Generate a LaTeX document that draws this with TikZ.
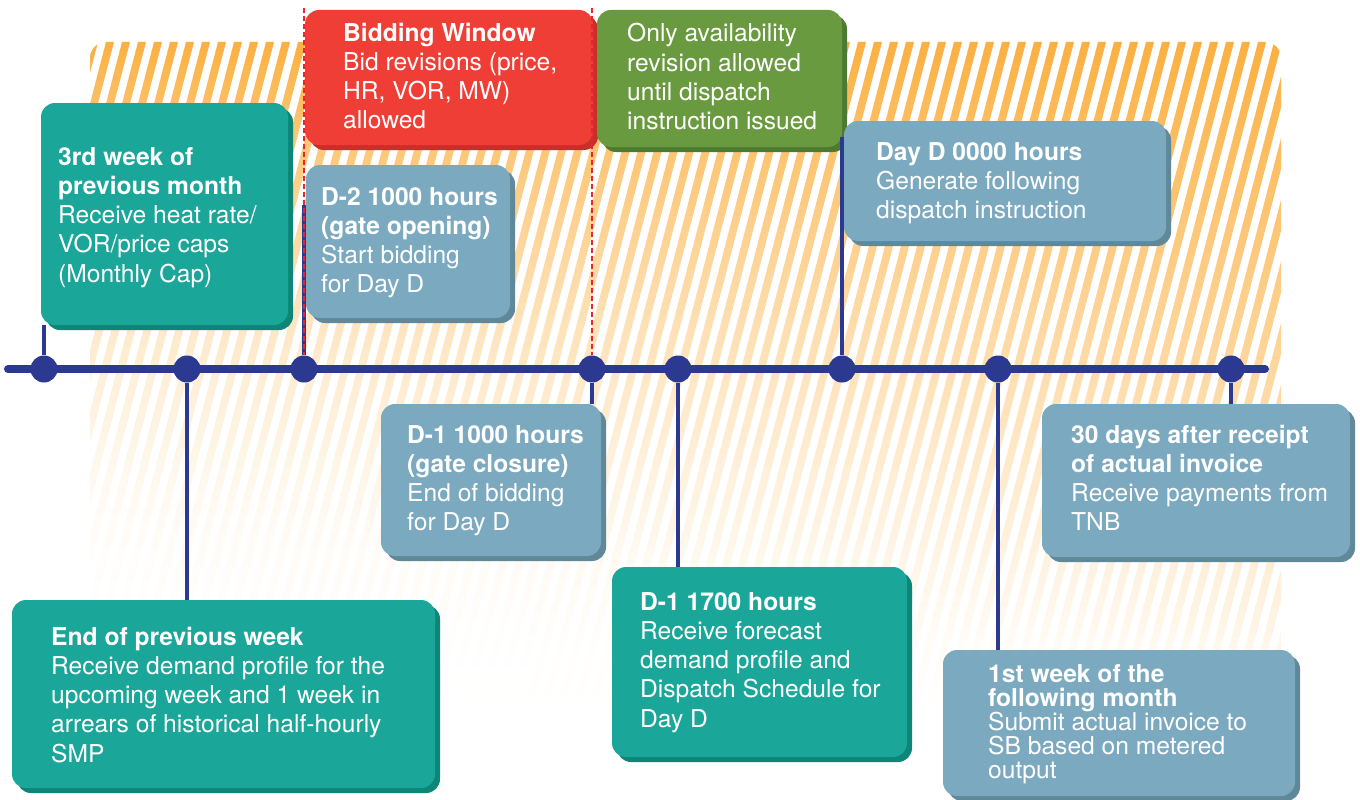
\documentclass[tikz,border=0pt]{standalone}
\usepackage{fontspec}
\setmainfont{TeX Gyre Heros}
\usetikzlibrary{shadows}

\definecolor{navyline}{HTML}{2B3990}
\definecolor{cardteal}{HTML}{1BA69A}
\definecolor{cardtealdark}{HTML}{0D8677}
\definecolor{cardred}{HTML}{EF3E36}
\definecolor{cardreddark}{HTML}{C5302B}
\definecolor{cardgreen}{HTML}{6A9A3F}
\definecolor{cardgreendark}{HTML}{4E7A30}
\definecolor{cardblue}{HTML}{7BA9BF}
\definecolor{cardbluedark}{HTML}{5F8899}
\definecolor{stripeorange}{HTML}{FBB040}
\definecolor{gatered}{HTML}{E8262B}

\tikzset{
  card/.style={rectangle, rounded corners=14pt, inner sep=0pt, outer sep=0pt, anchor=north west},
  tealcard/.style={card, fill=cardteal, drop shadow={shadow xshift=5pt, shadow yshift=-5pt, fill=cardtealdark, opacity=1}},
  redcard/.style={card, fill=cardred, drop shadow={shadow xshift=5pt, shadow yshift=-5pt, fill=cardreddark, opacity=1}},
  greencard/.style={card, fill=cardgreen, drop shadow={shadow xshift=5pt, shadow yshift=-5pt, fill=cardgreendark, opacity=1}},
  bluecard/.style={card, fill=cardblue, drop shadow={shadow xshift=5pt, shadow yshift=-5pt, fill=cardbluedark, opacity=1}},
  cardtext/.style={anchor=base west, align=left, text=white, inner sep=0pt, font=\fontsize{24.6}{29.3}\selectfont},
  tightcardtext/.style={cardtext, font=\fontsize{24.6}{24.2}\selectfont},
  tick/.style={circle, fill=navyline, minimum size=27pt, inner sep=0pt},
  stem/.style={navyline, line width=4.5pt},
  gateline/.style={gatered, line width=2.6pt, dash pattern=on 5pt off 3pt}
}

\begin{document}
\begin{tikzpicture}[x=1pt, y=-1pt]
  \useasboundingbox (0,0) rectangle (1360,800);

  % striped backdrop, fading towards the bottom left
  \begin{scope}
    \clip[rounded corners=16pt] (90,42) rectangle (1281,720);
    \foreach \k in {0,...,86} {
      \foreach \j in {0,...,7} {
        \pgfmathsetmacro\ytop{42+84.75*\j}
        \pgfmathsetmacro\ybot{\ytop+85.5}
        \pgfmathsetmacro\xtop{-86+16*\k+0.2596*(720-\ytop)}
        \pgfmathsetmacro\xbot{-86+16*\k+0.2596*(720-\ybot)}
        \pgfmathsetmacro\u{min(1,max(0,(\xtop-90)/1191))}
        \pgfmathsetmacro\pw{2.4-1.4*\u}
        \pgfmathtruncatemacro\ctop{100*max(0.001,1-(\ytop-42)/678)^\pw}
        \pgfmathtruncatemacro\cbot{100*max(0.001,1-(\ybot-42)/678)^\pw}
        \shade[top color=stripeorange!\ctop!white, bottom color=stripeorange!\cbot!white]
          (\xbot,\ybot) -- ++(8,0) -- ({\xtop+8},\ytop) -- (\xtop,\ytop) -- cycle;
      }
    }
  \end{scope}

  % cards above the line
  \node[tealcard, minimum width=247pt, minimum height=222pt] (prevmonth) at (41,103) {};
  \node[cardtext] (prevmonthtxt) at (58,282.2) {\textbf{3rd week of}\\\textbf{previous month}\\Receive heat rate/\\VOR/price caps\\(Monthly Cap)};
  \node[redcard, minimum width=288pt, minimum height=135pt] (bidwindow) at (305,10) {};
  \node[cardtext] (bidwindowtxt) at (343,128.9) {\textbf{Bidding Window}\\Bid revisions (price,\\HR, VOR, MW)\\allowed};
  \node[greencard, minimum width=245pt, minimum height=137pt] (availonly) at (597,10) {};
  \node[cardtext] (availonlytxt) at (627,129.9) {Only availability\\revision allowed\\until dispatch\\instruction issued};
  \node[bluecard, minimum width=204pt, minimum height=153pt] (gateopen) at (306,165) {};
  \node[cardtext] (gateopentxt) at (321,292.9) {\textbf{D-2 1000 hours}\\\textbf{(gate opening)}\\Start bidding\\for Day D};
  \node[bluecard, minimum width=322pt, minimum height=120pt] (daydzero) at (844,121) {};
  \node[cardtext] (daydzerotxt) at (876,218.6) {\textbf{Day D 0000 hours}\\Generate following\\dispatch instruction};

  % cards below the line
  \node[bluecard, minimum width=220pt, minimum height=152pt] (gateclose) at (381,404) {};
  \node[cardtext] (gateclosetxt) at (407,530.9) {\textbf{D-1 1000 hours}\\\textbf{(gate closure)}\\End of bidding\\for Day D};
  \node[tealcard, minimum width=423pt, minimum height=188pt] (prevweek) at (12,600) {};
  \node[cardtext] (prevweektxt) at (51,762.2) {\textbf{End of previous week}\\Receive demand profile for the\\upcoming week and 1 week in\\arrears of historical half-hourly\\SMP};
  \node[tealcard, minimum width=295pt, minimum height=190pt] (forecast) at (612,567) {};
  \node[cardtext] (forecasttxt) at (640,727.2) {\textbf{D-1 1700 hours}\\Receive forecast\\demand profile and\\Dispatch Schedule for\\Day D};
  \node[bluecard, minimum width=352pt, minimum height=146pt] (invoice) at (943,650) {};
  \node[tightcardtext] (invoicetxt) at (988,778.8) {\textbf{1st week of the}\\\textbf{following month}\\Submit actual invoice to\\SB based on metered\\output};
  \node[bluecard, minimum width=308pt, minimum height=153pt] (payment) at (1042,404) {};
  \node[cardtext] (paymenttxt) at (1071,530.9) {\textbf{30 days after receipt}\\\textbf{of actual invoice}\\Receive payments from\\TNB};

  % timeline
  \coordinate (linestart) at (8,369);
  \coordinate (lineend) at (1265,369);
  \coordinate (gateopentop) at (304,205);
  \coordinate (daydtop) at (842,137);
  \coordinate (gateopenmark) at (304,8);
  \coordinate (gateclosemark) at (592,8);
  \draw[navyline, line width=8pt, line cap=round] (linestart) -- (lineend);
  \node[tick] (dotprevmonth) at (44,369) {};
  \node[tick] (dotprevweek) at (187,369) {};
  \node[tick] (dotgateopen) at (304,369) {};
  \node[tick] (dotgateclose) at (592,369) {};
  \node[tick] (dotforecast) at (678,369) {};
  \node[tick] (dotdayd) at (842,369) {};
  \node[tick] (dotinvoice) at (998,369) {};
  \node[tick] (dotpayment) at (1231,369) {};

  \draw[stem] (dotprevmonth) -- (dotprevmonth |- prevmonth.south);
  \draw[stem] (dotprevweek) -- (dotprevweek |- prevweek.north);
  \draw[stem] (dotgateopen) -- (gateopentop);
  \draw[stem] (dotgateclose) -- (dotgateclose |- gateclose.north);
  \draw[stem] (dotforecast) -- (dotforecast |- forecast.north);
  \draw[stem] (dotdayd) -- (daydtop);
  \draw[stem] (dotinvoice) -- (dotinvoice |- invoice.north);
  \draw[stem] (dotpayment) -- (dotpayment |- payment.north);

  % gate markers
  \draw[gateline] (gateopenmark) -- (dotgateopen);
  \draw[gateline] (gateclosemark) -- (dotgateclose);
\end{tikzpicture}
\end{document}
